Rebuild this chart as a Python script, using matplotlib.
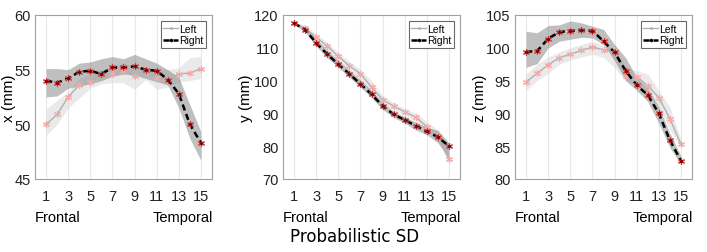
import matplotlib
matplotlib.use("Agg")
import matplotlib.pyplot as plt
import numpy as np

idx = np.arange(1, 16)

# Panel x
x_right = [54.0, 53.8, 54.2, 54.8, 54.9, 54.6, 55.2, 55.2, 55.3, 55.0, 54.9, 54.1, 52.8, 50.0, 48.3]
x_right_hi = [55.1, 55.1, 55.0, 55.6, 55.7, 56.0, 56.2, 56.0, 56.4, 56.0, 55.6, 55.0, 54.3, 51.8, 49.3]
x_right_lo = [52.5, 52.6, 53.3, 53.5, 53.7, 54.0, 54.4, 54.6, 54.5, 54.2, 53.9, 53.6, 51.5, 48.7, 46.7]
x_left = [50.0, 50.9, 52.5, 53.6, 53.9, 54.6, 54.6, 54.9, 54.4, 55.1, 54.2, 54.1, 54.6, 54.7, 55.1]
x_left_hi = [51.4, 52.2, 53.0, 54.2, 54.6, 55.0, 55.3, 55.6, 55.3, 55.2, 55.0, 55.0, 55.2, 56.1, 56.2]
x_left_lo = [49.0, 50.0, 51.5, 52.4, 53.3, 53.7, 53.8, 53.8, 53.2, 54.1, 53.2, 53.4, 53.9, 54.0, 54.2]

# Panel y
y_right = [117.5, 115.5, 111.5, 108.0, 105.0, 102.0, 99.0, 95.8, 92.3, 89.7, 88.0, 86.2, 84.5, 82.8, 80.0]
y_right_hi = [117.8, 116.3, 112.8, 109.2, 106.2, 103.2, 100.3, 97.0, 93.3, 90.6, 89.0, 87.3, 85.8, 84.8, 81.0]
y_right_lo = [117.2, 114.8, 110.5, 107.0, 104.0, 101.0, 98.0, 94.8, 91.2, 88.8, 87.0, 85.0, 83.5, 81.0, 76.5]
y_left = [117.5, 116.0, 113.2, 110.5, 107.4, 104.5, 102.1, 98.0, 94.2, 92.2, 90.5, 88.8, 86.0, 83.0, 76.0]
y_left_hi = [117.8, 116.8, 114.3, 111.6, 108.6, 105.8, 103.4, 100.0, 95.5, 93.2, 91.5, 90.0, 87.5, 85.0, 80.5]
y_left_lo = [117.2, 115.2, 112.0, 109.2, 106.2, 103.2, 100.5, 96.0, 92.8, 91.0, 89.3, 87.5, 84.8, 81.5, 75.0]

# Panel z
z_right = [99.4, 99.5, 101.4, 102.4, 102.6, 102.7, 102.6, 101.0, 99.3, 96.5, 94.3, 92.8, 90.0, 85.9, 82.8]
z_right_hi = [102.5, 102.3, 103.4, 103.5, 104.1, 103.8, 103.3, 102.8, 100.5, 98.5, 95.5, 93.9, 91.0, 87.0, 83.5]
z_right_lo = [97.0, 97.6, 100.0, 101.0, 101.3, 101.6, 101.5, 100.5, 98.0, 95.0, 93.5, 91.8, 88.5, 84.8, 82.2]
z_left = [94.8, 96.1, 97.4, 98.5, 99.0, 99.6, 100.1, 99.7, 99.5, 95.7, 95.6, 94.2, 92.4, 89.2, 85.3]
z_left_hi = [96.0, 97.5, 98.6, 99.4, 100.0, 100.5, 101.0, 100.4, 99.8, 97.0, 96.5, 96.0, 93.5, 91.0, 86.0]
z_left_lo = [93.5, 95.0, 96.1, 97.5, 98.1, 98.6, 99.0, 98.5, 97.0, 95.0, 94.5, 92.8, 91.0, 87.5, 84.8]

panels = [
    ("x (mm)", (45, 60), [45, 50, 55, 60], x_right, x_right_lo, x_right_hi, x_left, x_left_lo, x_left_hi),
    ("y (mm)", (70, 120), [70, 80, 90, 100, 110, 120], y_right, y_right_lo, y_right_hi, y_left, y_left_lo, y_left_hi),
    ("z (mm)", (80, 105), [80, 85, 90, 95, 100, 105], z_right, z_right_lo, z_right_hi, z_left, z_left_lo, z_left_hi),
]
xticks = [1, 3, 5, 7, 9, 11, 13, 15]

plt.rcParams['font.family'] = ['Liberation Sans', 'DejaVu Sans']

fig = plt.figure(figsize=(7.07, 2.53), dpi=100)
lefts = [35, 283, 515]
label_x = [-0.105, -0.17, -0.16]
ast = (6, 2, 0)
for (lab, ylim, yt, r, rlo, rhi, l, llo, lhi), lx, lbx in zip(panels, lefts, label_x):
    ax = fig.add_axes([lx / 707, 1 - 180 / 253, 177 / 707, (180 - 16) / 253])
    ax.fill_between(idx, llo, lhi, color='#d6d6d6', alpha=0.5, lw=0, zorder=1)
    ax.fill_between(idx, rlo, rhi, color='#808080', alpha=0.5, lw=0, zorder=2)
    ax.plot(idx, l, '-', color='#b0b0b0', lw=1.0, zorder=3, label='Left',
            marker='.', ms=2)
    ax.plot(idx, l, ls='none', marker=ast, ms=5, mec='#f5a8a8', mew=0.8, zorder=3.5)
    ax.plot(idx, r, '--', color='black', lw=1.8, zorder=4, label='Right',
            marker='.', ms=3, dashes=(2.5, 1.5))
    ax.plot(idx, r, ls='none', marker=ast, ms=5, mec='#d04040', mew=0.8, zorder=4.5)
    ax.plot(idx, r, ls='none', marker='o', ms=2.5, mfc='#8b0000', mec='none', zorder=4.6)
    ax.set_xlim(0, 16)
    ax.set_ylim(*ylim)
    ax.set_xticks(xticks)
    ax.set_yticks(yt)
    ax.tick_params(axis='x', labelsize=10.5, length=0, pad=7, colors='#222222')
    ax.tick_params(axis='y', labelsize=10.5, length=0, pad=3, colors='#222222')
    ax.grid(axis='x', color='#e8e8e8', lw=0.8)
    ax.set_axisbelow(True)
    for s in ax.spines.values():
        s.set_color('#a0a0a0')
        s.set_linewidth(0.8)
    ax.set_ylabel(lab, fontsize=11)
    ax.yaxis.set_label_coords(lbx, 0.5)
    ax.text(2, -0.19, 'Frontal', transform=ax.get_xaxis_transform(), ha='center', va='top', fontsize=10.5)
    ax.text(13.4, -0.19, 'Temporal', transform=ax.get_xaxis_transform(), ha='center', va='top', fontsize=10.5)
    leg = ax.legend(loc='upper right', fontsize=7.5, frameon=True, fancybox=False,
                    edgecolor='#444444', handlelength=1.4, handletextpad=0.1,
                    borderpad=0.25, labelspacing=0.15, borderaxespad=0.6)
    leg.get_frame().set_linewidth(0.8)

fig.text(355 / 707, 1 - 237 / 253, 'Probabilistic SD', ha='center', va='center',
         fontsize=12, family=['DejaVu Sans'])
fig.savefig('out.png', dpi=100)
